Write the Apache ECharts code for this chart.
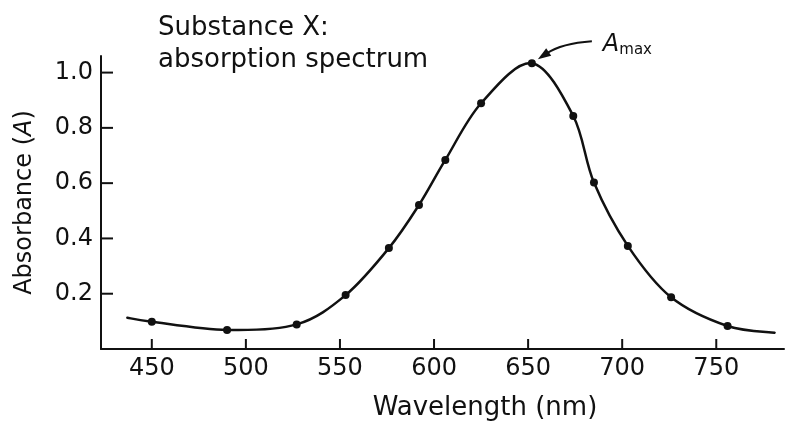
<!DOCTYPE html>
<html>
<head>
<meta charset="utf-8">
<script src="https://cdn.jsdelivr.net/npm/echarts@6/dist/echarts.min.js"></script>
<style>
html,body{margin:0;padding:0;background:#fff;}
#c{width:785px;height:431px;}
</style>
</head>
<body>
<div id="c"></div>
<script>
// Measured points (wavelength nm, absorbance)
var wavelengths = [450, 490, 527, 553, 576, 592, 606, 625, 652, 674, 685, 703, 726, 756];
var absorbance  = [0.099, 0.069, 0.089, 0.195, 0.365, 0.521, 0.684, 0.889, 1.034, 0.843, 0.602, 0.373, 0.187, 0.083];
// Ends of the drawn curve beyond the measured points
var curveStart = [437, 0.113];
var curveEnd   = [781, 0.059];
var xTicks = [450, 500, 550, 600, 650, 700, 750];
var yTicks = [0.2, 0.4, 0.6, 0.8, 1.0];
var titleLines = ['Substance X:', 'absorption spectrum'];

var FONT = 'DejaVu Sans';
var INK = '#111';
var X_MIN = 423, X_MAX = 786, Y_MIN = 0, Y_MAX = 1.06;

var dots = wavelengths.map(function (w, i) { return [w, absorbance[i]]; });
var curve = [curveStart].concat(dots).concat([curveEnd]);

// Smooth (Catmull-Rom) segment between consecutive curve points, in pixel space
function renderCurve(params, api) {
  var i = params.dataIndex, n = curve.length;
  if (i >= n - 1) return null;
  function P(j) { j = Math.max(0, Math.min(n - 1, j)); return api.coord(curve[j]); }
  var p0 = P(i - 1), p1 = P(i), p2 = P(i + 1), p3 = P(i + 2);
  return {
    type: 'bezierCurve',
    shape: {
      x1: p1[0], y1: p1[1],
      cpx1: p1[0] + (p2[0] - p0[0]) / 6, cpy1: p1[1] + (p2[1] - p0[1]) / 6,
      cpx2: p2[0] - (p3[0] - p1[0]) / 6, cpy2: p2[1] - (p3[1] - p1[1]) / 6,
      x2: p2[0], y2: p2[1]
    },
    style: {stroke: INK, lineWidth: 2.5, fill: null, lineCap: 'round'}
  };
}

var chart = echarts.init(document.getElementById('c'), null, {renderer: 'canvas'});
chart.setOption({
  backgroundColor: '#fff',
  animation: false,
  title: {
    text: titleLines.join('\n'),
    left: 158, top: 12, padding: 0,
    textStyle: {fontFamily: FONT, fontSize: 26, fontWeight: 'normal', color: INK, lineHeight: 32}
  },
  grid: {left: 101, right: 1, top: 56, bottom: 82, containLabel: false},
  xAxis: {
    type: 'value', min: X_MIN, max: X_MAX,
    name: 'Wavelength (nm)', nameLocation: 'middle', nameGap: 46,
    nameTextStyle: {fontFamily: FONT, fontSize: 26, color: INK, padding: [0, 0, 0, 85]},
    axisLine: {show: true, lineStyle: {color: INK, width: 2}},
    axisTick: {show: false},
    axisLabel: {show: true, margin: 8, fontFamily: FONT, fontSize: 24, color: INK, customValues: xTicks},
    splitLine: {show: false}
  },
  yAxis: {
    type: 'value', min: Y_MIN, max: Y_MAX,
    name: 'Absorbance ({i|A})', nameLocation: 'middle', nameGap: 64, nameRotate: 90,
    nameTextStyle: {fontFamily: FONT, fontSize: 24, color: INK,
      rich: {i: {fontFamily: FONT, fontSize: 24, fontStyle: 'italic', color: INK}}},
    axisLine: {show: true, lineStyle: {color: INK, width: 2}},
    axisTick: {show: false},
    axisLabel: {show: true, margin: 8, fontFamily: FONT, fontSize: 24, color: INK, customValues: yTicks,
      formatter: function (v) { return v.toFixed(1); }},
    splitLine: {show: false}
  },
  series: [
    {type: 'custom', data: curve, renderItem: renderCurve, clip: false, z: 2, silent: true},
    {type: 'scatter', data: dots, symbol: 'circle', symbolSize: 8, itemStyle: {color: INK, opacity: 1}, z: 3}
  ]
});

var graphics = [];
// Inward tick marks, placed through the chart's own scales
xTicks.forEach(function (v) {
  var c = chart.convertToPixel({gridIndex: 0}, [v, Y_MIN]);
  graphics.push({type: 'rect', shape: {x: c[0] - 1, y: c[1] - 10, width: 2, height: 10}, style: {fill: INK}, z: 10});
});
yTicks.forEach(function (v) {
  var c = chart.convertToPixel({gridIndex: 0}, [X_MIN, v]);
  graphics.push({type: 'rect', shape: {x: c[0], y: c[1] - 1, width: 12, height: 2}, style: {fill: INK}, z: 10});
});

// A_max annotation anchored to the highest measured point
var iMax = absorbance.indexOf(Math.max.apply(null, absorbance));
var p = chart.convertToPixel({gridIndex: 0}, [wavelengths[iMax], absorbance[iMax]]);
var tip = [p[0] + 6, p[1] - 4];
var start = [p[0] + 60, p[1] - 22];
var ctrl = [p[0] + 30, p[1] - 20];
var dx = tip[0] - ctrl[0], dy = tip[1] - ctrl[1];
var len = Math.sqrt(dx * dx + dy * dy); dx /= len; dy /= len;
var hl = 13, hw = 4.5;
var base = [tip[0] - dx * hl, tip[1] - dy * hl];
graphics.push(
  {type: 'bezierCurve', shape: {x1: start[0], y1: start[1], cpx1: ctrl[0], cpy1: ctrl[1], x2: base[0] + dx * 3, y2: base[1] + dy * 3},
   style: {stroke: INK, lineWidth: 2, fill: null}},
  {type: 'polygon', shape: {points: [tip, [base[0] - dy * hw, base[1] + dx * hw], [base[0] + dy * hw, base[1] - dx * hw]]},
   style: {fill: INK}},
  {type: 'text', x: p[0] + 71, y: p[1] - 30,
   style: {text: '{a|A}{m|max}', rich: {
     a: {fontFamily: FONT, fontSize: 24, fontStyle: 'italic', fill: INK},
     m: {fontFamily: FONT, fontSize: 15, fill: INK, verticalAlign: 'bottom', padding: [8, 0, 0, 0]}
   }, verticalAlign: 'top'}}
);
chart.setOption({graphic: graphics});
</script>
</body>
</html>
